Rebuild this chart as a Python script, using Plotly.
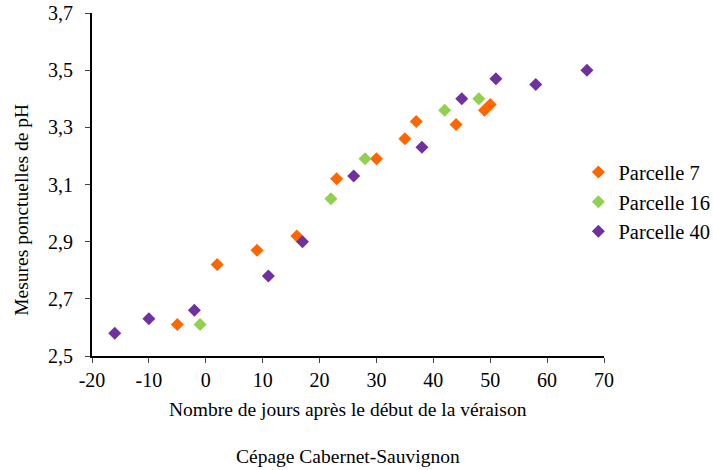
import plotly.graph_objects as go

# Data
p7_x = [-5, 2, 9, 16, 23, 30, 35, 37, 44, 49, 50]
p7_y = [2.61, 2.82, 2.87, 2.92, 3.12, 3.19, 3.26, 3.32, 3.31, 3.36, 3.38]
p16_x = [-1, 22, 28, 42, 48]
p16_y = [2.61, 3.05, 3.19, 3.36, 3.40]
p40_x = [-16, -10, -2, 11, 17, 26, 38, 45, 51, 58, 67]
p40_y = [2.58, 2.63, 2.66, 2.78, 2.90, 3.13, 3.23, 3.40, 3.47, 3.45, 3.50]

series_names = ["Parcelle 7", "Parcelle 16", "Parcelle 40"]
colors = ["#FF6600", "#92D050", "#7030A0"]

x_tickvals = [-20, -10, 0, 10, 20, 30, 40, 50, 60, 70]
x_ticktext = ["-20", "-10", "0", "10", "20", "30", "40", "50", "60", "70"]
y_tickvals = [2.5, 2.7, 2.9, 3.1, 3.3, 3.5, 3.7]
y_ticktext = ["2,5", "2,7", "2,9", "3,1", "3,3", "3,5", "3,7"]

FONT = "Liberation Serif"
FS = 20
FT = 19.5
FL = 20.5

fig = go.Figure()
for name, xs, ys, c in zip(series_names, [p7_x, p16_x, p40_x], [p7_y, p16_y, p40_y], colors):
    fig.add_trace(go.Scatter(
        x=xs, y=ys, mode="markers", name=name,
        marker=dict(symbol="diamond", size=10, color=c),
    ))

fig.update_layout(
    width=713, height=470,
    margin=dict(l=92, r=109, t=13, b=114, autoexpand=False),
    paper_bgcolor="white", plot_bgcolor="white",
    font=dict(family=FONT, size=FS, color="black"),
    showlegend=True,
    legend=dict(x=0.95, xanchor="left", y=0.45, yanchor="middle",
                font=dict(family=FONT, size=FL, color="black"),
                itemwidth=30, tracegroupgap=0, borderwidth=0,
                bgcolor="rgba(0,0,0,0)"),
    xaxis=dict(range=[-20, 70], tickvals=x_tickvals, ticktext=x_ticktext,
               showgrid=False, zeroline=False,
               showline=True, linecolor="black", linewidth=2,
               ticks="outside", ticklen=5, tickcolor="#444", tickwidth=1,
               tickfont=dict(family=FONT, size=FS, color="black")),
    yaxis=dict(range=[2.5, 3.7], tickvals=y_tickvals, ticktext=y_ticktext,
               showgrid=False, zeroline=False,
               showline=True, linecolor="black", linewidth=2,
               ticks="outside", ticklen=5, tickcolor="#444", tickwidth=1,
               ticklabelstandoff=8,
               tickfont=dict(family=FONT, size=FS, color="black")),
    annotations=[
        dict(text="Nombre de jours après le début de la véraison", xref="paper", yref="paper",
             x=0.5, y=-0.157, xanchor="center", yanchor="middle", showarrow=False,
             font=dict(family=FONT, size=FT, color="black")),
        dict(text="Cépage Cabernet-Sauvignon", xref="paper", yref="paper",
             x=0.5, y=-0.294, xanchor="center", yanchor="middle", showarrow=False,
             font=dict(family=FONT, size=FT, color="black")),
        dict(text="Mesures ponctuelles de pH", xref="paper", yref="paper",
             x=-0.137, y=0.426, xanchor="center", yanchor="middle", showarrow=False,
             textangle=-90, font=dict(family=FONT, size=FT, color="black")),
    ],
)

fig.write_html("out.html")
